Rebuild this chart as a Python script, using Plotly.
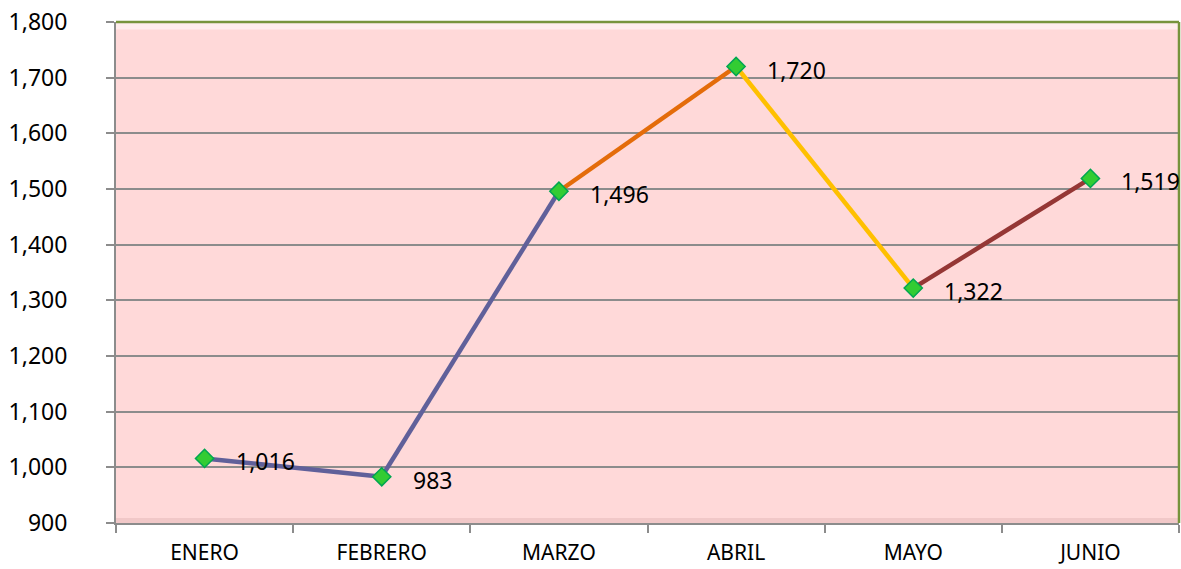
import plotly.graph_objects as go

months = ["ENERO", "FEBRERO", "MARZO", "ABRIL", "MAYO", "JUNIO"]
values = [1016, 983, 1496, 1720, 1322, 1519]
labels = ["1,016", "983", "1,496", "1,720", "1,322", "1,519"]
segment_colors = ["#60609A", "#60609A", "#E46C0A", "#FFC000", "#953735"]

FONT = "Noto Sans"

fig = go.Figure()

for i, c in enumerate(segment_colors):
    fig.add_trace(go.Scatter(
        x=months[i:i + 2], y=values[i:i + 2], mode="lines",
        line=dict(color=c, width=4.5), showlegend=False, hoverinfo="skip"))

fig.add_trace(go.Scatter(
    x=months, y=values, mode="markers",
    marker=dict(symbol="diamond", size=14, color="#33CC33",
                line=dict(color="#00A651", width=1.5)),
    showlegend=False))

for m, v, t in zip(months, values, labels):
    fig.add_annotation(x=m, y=v, text=t, showarrow=False, xanchor="left",
                       xshift=29, yshift=-3,
                       font=dict(family=FONT, size=23, color="#000000"))

# subtle bevel: light top strip, darker bottom strip, green border (top/right)
fig.add_shape(type="rect", xref="paper", yref="paper", x0=0, x1=1, y0=0.985, y1=1,
              fillcolor="rgba(255,255,255,0.5)", line_width=0, layer="below")
fig.add_shape(type="rect", xref="paper", yref="paper", x0=0, x1=1, y0=0, y1=0.01,
              fillcolor="rgba(200,150,150,0.25)", line_width=0, layer="below")
fig.add_shape(type="line", xref="paper", yref="paper", x0=0, x1=1, y0=1, y1=1,
              line=dict(color="#77933C", width=2.5))
fig.add_shape(type="line", xref="paper", yref="paper", x0=1, x1=1, y0=0, y1=1,
              line=dict(color="#77933C", width=2.5))

fig.update_layout(
    width=1181, height=569,
    margin=dict(l=116, r=2, t=22, b=46),
    paper_bgcolor="white",
    plot_bgcolor="#FFD9D9",
    font=dict(family=FONT, size=23, color="#000000"),
)
fig.update_xaxes(
    type="category", range=[-0.5, 5.5], showgrid=False,
    showline=True, linecolor="#8C8C8C", linewidth=2,
    ticks="outside", ticklen=8, tickcolor="#8C8C8C", tickwidth=1.5,
    tickson="boundaries", ticklabelstandoff=10,
    tickfont=dict(family=FONT, size=21), automargin=False)
fig.update_yaxes(
    range=[900, 1800], dtick=100, tickformat=",",
    showgrid=True, gridcolor="#8C8C8C", gridwidth=2,
    showline=True, linecolor="#8C8C8C", linewidth=2,
    ticks="outside", ticklen=8, tickcolor="#8C8C8C", tickwidth=1.5,
    ticklabelstandoff=34, zeroline=False,
    tickfont=dict(family=FONT, size=23), automargin=False)

fig.write_html("out.html", config={"displayModeBar": False},
               post_script="document.body.style.margin='0';")
